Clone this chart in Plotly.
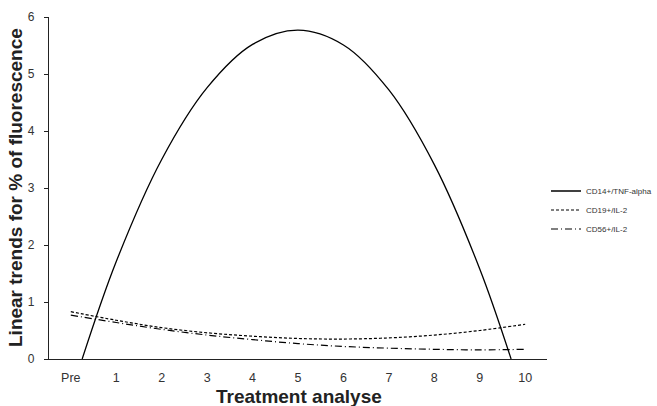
import plotly.graph_objects as go

# Data
tick_vals = [0, 1, 2, 3, 4, 5, 6, 7, 8, 9, 10]
tick_text = ["Pre", "1", "2", "3", "4", "5", "6", "7", "8", "9", "10"]

cd14_x = [0.25, 1, 2, 3, 4, 5, 6, 7, 8, 9, 9.69]
cd14_y = [0.0, 1.71, 3.50, 4.76, 5.52, 5.77, 5.51, 4.72, 3.41, 1.58, 0.0]

cd19_x = [0, 1, 2, 3, 4, 5, 6, 7, 8, 9, 10]
cd19_y = [0.83, 0.68, 0.55, 0.46, 0.40, 0.36, 0.35, 0.37, 0.42, 0.50, 0.61]

cd56_x = [0, 1, 2, 3, 4, 5, 6, 7, 8, 9, 10]
cd56_y = [0.77, 0.64, 0.52, 0.42, 0.34, 0.27, 0.22, 0.19, 0.17, 0.16, 0.17]

names = ["CD14+/TNF-alpha", "CD19+/IL-2", "CD56+/IL-2"]

FONT = "Liberation Sans, Arial, sans-serif"

W, H = 657, 406
L, T, B = 49, 17, 47
PW = W - L               # paper width (right margin 0)
PLOT_R = 547             # right end of x axis (px)

def px_x(p):
    return (p - L) / PW

def px_y(p):
    return (H - B - p) / (H - B - T)

fig = go.Figure()
fig.add_trace(go.Scatter(x=cd14_x, y=cd14_y, mode="lines", name=names[0],
                         line=dict(color="black", width=1.3, shape="spline")))
fig.add_trace(go.Scatter(x=cd19_x, y=cd19_y, mode="lines", name=names[1],
                         line=dict(color="black", width=1.2, shape="spline", dash="3px,2px")))
fig.add_trace(go.Scatter(x=cd56_x, y=cd56_y, mode="lines", name=names[2],
                         line=dict(color="black", width=1.2, shape="spline", dash="7px,3px,1px,3px")))

fig.update_layout(
    width=W, height=H,
    margin=dict(l=L, r=0, t=T, b=B, pad=0),
    paper_bgcolor="white", plot_bgcolor="white",
    font=dict(family=FONT, color="#333", size=12),
    legend=dict(x=1.0, xanchor="right", y=px_y(210), yanchor="middle",
                font=dict(size=8, color="#333", family=FONT),
                bgcolor="rgba(0,0,0,0)", itemwidth=30, tracegroupgap=0),
    xaxis=dict(domain=[0, px_x(PLOT_R)], range=[-0.48, 10.48],
               tickvals=tick_vals, ticktext=tick_text,
               showgrid=False, zeroline=False, showline=True, linecolor="#222",
               linewidth=1.2, ticks="", ticklabelstandoff=7, automargin=False,
               tickfont=dict(size=12.5, color="#333")),
    yaxis=dict(range=[0, 6], tickvals=[0, 1, 2, 3, 4, 5, 6],
               showgrid=False, zeroline=False, showline=True, linecolor="#222",
               linewidth=1.2, ticks="outside", ticklen=4, tickcolor="#222",
               ticklabelstandoff=7, automargin=False,
               tickfont=dict(size=12, color="#333")),
    annotations=[
        dict(text="<b>Treatment analyse</b>", xref="paper", yref="paper",
             x=px_x(299), y=px_y(396.5), xanchor="center", yanchor="middle",
             showarrow=False, font=dict(size=19, color="#222", family=FONT)),
        dict(text="<b>Linear trends for % of fluorescence</b>", xref="paper", yref="paper",
             x=px_x(15), y=px_y(188), xanchor="center", yanchor="middle",
             textangle=-90, showarrow=False, font=dict(size=19, color="#222", family=FONT)),
    ],
)

fig.write_html("out.html", config={"displayModeBar": False},
               post_script="document.body.style.margin='0';")
